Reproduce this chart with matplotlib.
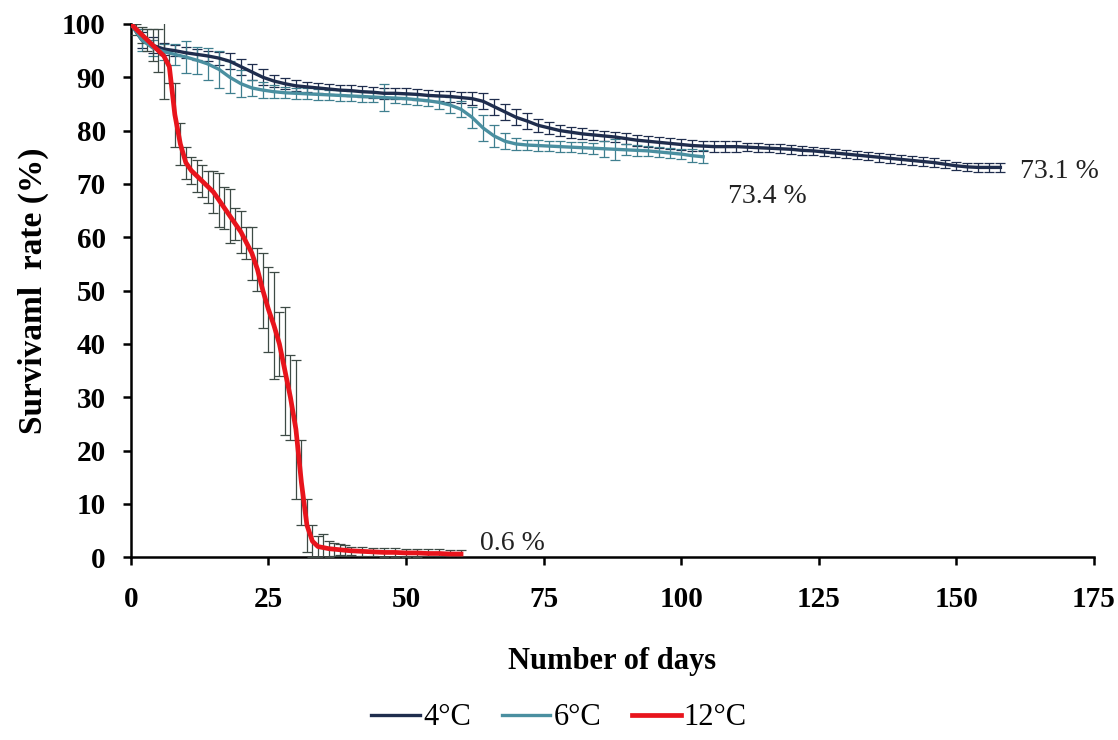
import matplotlib.pyplot as plt

# font: Times-like serif
plt.rcParams['font.family'] = ['Liberation Serif', 'DejaVu Serif']
plt.rcParams['font.size'] = 20

# --- data ---
days_4 = list(range(0, 159, 2))
surv_4 = [100, 97, 96, 95.3, 95, 94.6, 94.3, 94, 93.6, 93, 92, 91, 90, 89.3, 88.8, 88.4,
          88.2, 88, 87.8, 87.6, 87.5, 87.3, 87.2, 87, 87, 86.9, 86.8, 86.6, 86.5, 86.4,
          86.2, 86, 85.5, 84.5, 83.5, 82.5, 81.8, 81, 80.5, 80, 79.7, 79.4, 79.2, 79,
          78.8, 78.5, 78.2, 78, 77.8, 77.6, 77.4, 77.2, 77.1, 77, 77, 77, 76.9, 76.8,
          76.7, 76.6, 76.5, 76.3, 76.2, 76, 75.8, 75.6, 75.4, 75.2, 75, 74.8, 74.6, 74.4,
          74.2, 74, 73.7, 73.4, 73.2, 73.1, 73.1, 73.1]
err_4 = [0, 1.5, 1.5, 1.2, 1, 1, 1, 1, 1.2, 1.5, 1.5, 1.5, 1.5, 1.2, 1, 1,
         1, 1, 1, 1, 1, 1, 1, 1, 1, 1, 1, 1, 1, 1,
         1, 1.2, 1.5, 1.5, 1.5, 1.5, 1.5, 1.2, 1.2, 1, 1, 1, 1, 1,
         1, 1, 1, 1, 1, 1, 1, 1, 1, 1, 1, 1, 0.8, 0.8,
         0.8, 0.8, 0.8, 0.8, 0.8, 0.8, 0.8, 0.8, 0.8, 0.8, 0.8, 0.8, 0.8, 0.8,
         0.8, 0.8, 0.8, 0.8, 0.8, 0.8, 0.8, 0.8]

days_6 = list(range(0, 105, 2))
surv_6 = [100, 97, 95.5, 94.8, 94.3, 93.8, 93.2, 92.5, 91.5, 90, 88.8, 88, 87.6, 87.3,
          87.1, 87, 86.9, 86.8, 86.7, 86.6, 86.5, 86.4, 86.3, 86.2, 86.1, 86, 85.8,
          85.6, 85.3, 84.8, 84, 82.5, 80.5, 79, 78, 77.5, 77.3, 77.2, 77.1, 77, 76.9,
          76.8, 76.7, 76.6, 76.5, 76.4, 76.3, 76.2, 76, 75.8, 75.6, 75.3, 75.1]
err_6 = [0, 2, 1.5, 1.5, 2, 3, 2.5, 3, 3.5, 3, 2.5, 1.5, 1.5, 1.2,
         1, 1, 1, 1, 1, 1, 1, 1, 1, 2.5, 1, 1, 1,
         1, 1.2, 1.5, 1.5, 2, 2.5, 2, 1.5, 1.2, 1, 1, 1, 1, 1,
         1, 1, 1.5, 2, 1, 1, 1, 1, 1, 1, 1.2, 1.2]

days_12 = list(range(0, 41)) + list(range(42, 61, 2))
surv_12 = [100, 99, 98, 97, 96, 95, 94, 92, 83, 77.5, 74, 72.5, 71.5, 70.5, 69.5,
           68.5, 67, 65.5, 64, 62.5, 61, 59, 57, 54, 50, 46.5, 43.5, 40, 35,
           30, 24, 14, 6, 3, 2, 1.8, 1.6, 1.5, 1.4, 1.3, 1.2,
           1.1, 1, 0.9, 0.9, 0.8, 0.8, 0.7, 0.7, 0.6, 0.6]
err_12 = [0, 1, 1.5, 2, 3, 4, 8, 3, 6, 4, 3, 2.5, 3, 3, 3,
          4, 5, 4, 5, 3, 4, 3, 5, 4, 7, 8, 10, 6, 12,
          8, 13, 8, 5, 3, 2, 2.5, 1.5, 1.2, 1, 1, 0.8,
          0.8, 0.8, 0.8, 0.8, 0.8, 0.8, 0.8, 0.8, 0.8, 0.8]

labels = ['4°C', '6°C', '12°C']
colors = ['#1f2d4d', '#4a8fa0', '#e8141c']
err_colors = ['#1f2d4d', '#3f7f8f', '#3d4a45']

fig = plt.figure(figsize=(11.18, 7.40), dpi=100)
ax = fig.add_axes([0.117, 0.247, 0.8615, 0.7206])

series = [(days_4, surv_4, err_4), (days_6, surv_6, err_6), (days_12, surv_12, err_12)]
widths = [2.4, 2.4, 3.4]
for i, (d, s, e) in enumerate(series):
    ax.errorbar(d, s, yerr=e, fmt='none', ecolor=err_colors[i], elinewidth=0.9,
                capsize=3.5, capthick=0.9, zorder=2 + i)
    ax.plot(d, s, color=colors[i], lw=widths[i], label=labels[i], zorder=5 + i)

# end values
ax.text(161.5, 72.3, '73.1 %', va='center', ha='left', color='#222222', fontsize=20)
ax.text(108.5, 67.6, '73.4 %', va='center', ha='left', color='#222222', fontsize=20)
ax.text(63.5, 2.6, '0.6 %', va='center', ha='left', color='#222222', fontsize=20)

ax.set_xlim(0, 175)
ax.set_ylim(0, 100)
ax.set_xticks(range(0, 176, 25))
ax.set_yticks(range(0, 101, 10))
for lab in ax.get_xticklabels() + ax.get_yticklabels():
    lab.set_fontweight('bold')
ax.tick_params(direction='out', length=6, width=1.8, labelsize=21)
ax.tick_params(axis='y', pad=12)
ax.tick_params(axis='x', pad=15)
ax.spines['top'].set_visible(False)
ax.spines['right'].set_visible(False)
ax.spines['left'].set_linewidth(1.8)
ax.spines['bottom'].set_linewidth(1.8)

ax.set_xlabel('Number of days', fontweight='bold', fontsize=22, labelpad=24)
ax.set_ylabel('Survivaml  rate (%)', fontweight='bold', fontsize=24, labelpad=9)

fig.legend(loc='center', bbox_to_anchor=(0.5, 0.03), ncol=3, frameon=False,
           handlelength=1.6, handletextpad=0.1, columnspacing=1.0, fontsize=22)

fig.savefig('out.png', dpi=100)
